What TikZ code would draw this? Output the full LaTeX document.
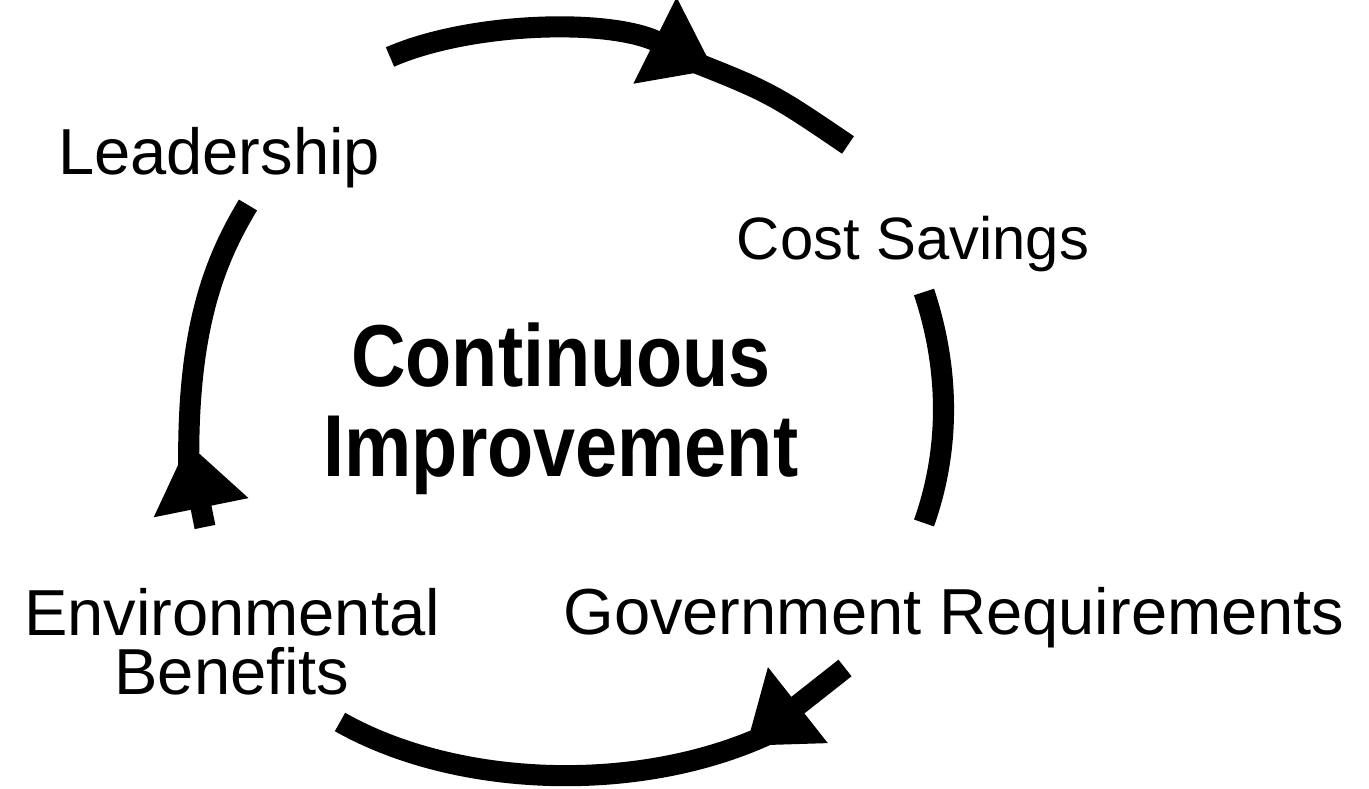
\documentclass[tikz,border=0pt]{standalone}
\usepackage{fontspec}
\setmainfont{Liberation Sans}
\newfontfamily\titlefont[FakeStretch=0.86]{Liberation Sans}
\usetikzlibrary{arrows.meta}

\begin{document}
\begin{tikzpicture}[x=0.01cm, y=-0.01cm,
    tag/.style={inner sep=0pt, anchor=base, font=\fontsize{18.5}{17}\selectfont},
    loopline/.style={line width=6pt},
    looprest/.style={loopline, shorten <=-4mm},
    looparrow/.style={loopline, -{Triangle[length=6.6mm, width=9.2mm]}}]
    \useasboundingbox (0,0) rectangle (1369,789);

    % Labels round the cycle (base = last line)
    \node[tag] (lead) at (219,175) {Leadership};
    \node[tag, font=\fontsize{17}{17}\selectfont] (cost) at (913,260) {Cost Savings};
    \node[tag] (gov) at (954,635) {Government Requirements};
    \node[tag, align=center] (env) at (232,695) {Environmental\\Benefits};
    % Title in the middle
    \node[inner sep=0pt, anchor=base, align=center,
          font=\titlefont\bfseries\fontsize{25}{25.8}\selectfont] (title) at (561,477) {Continuous\\Improvement};

    % Ends of the arcs
    \coordinate (leadout) at (390,57);
    \coordinate (toptip) at (714,70);
    \coordinate (costin) at (848,145);
    \coordinate (costout) at (924,292);
    \coordinate (govin) at (924,523);
    \coordinate (govout) at (845,668);
    \coordinate (bottip) at (746,746);
    \coordinate (envin) at (340,722);
    \coordinate (envout) at (205,527);
    \coordinate (lefttip) at (188,443);
    \coordinate (leadin) at (248,205);

    % Leadership over the top to Cost Savings
    \draw[looparrow] (leadout) .. controls (470,22) and (610,18) .. (toptip);
    \draw[looprest] (toptip) .. controls (770,92) .. (costin);
    % Cost Savings down to Government Requirements
    \draw[loopline] (costout) .. controls (950,370) and (950,450) .. (govin);
    % Government Requirements underneath to Environmental Benefits
    \draw[looparrow] (govout) -- (bottip);
    \draw[looprest] (bottip) .. controls (650,795) and (460,790) .. (envin);
    % Environmental Benefits up to Leadership
    \draw[looparrow] (envout) -- (lefttip);
    \draw[looprest] (lefttip) .. controls (185,330) and (215,260) .. (leadin);
\end{tikzpicture}
\end{document}
